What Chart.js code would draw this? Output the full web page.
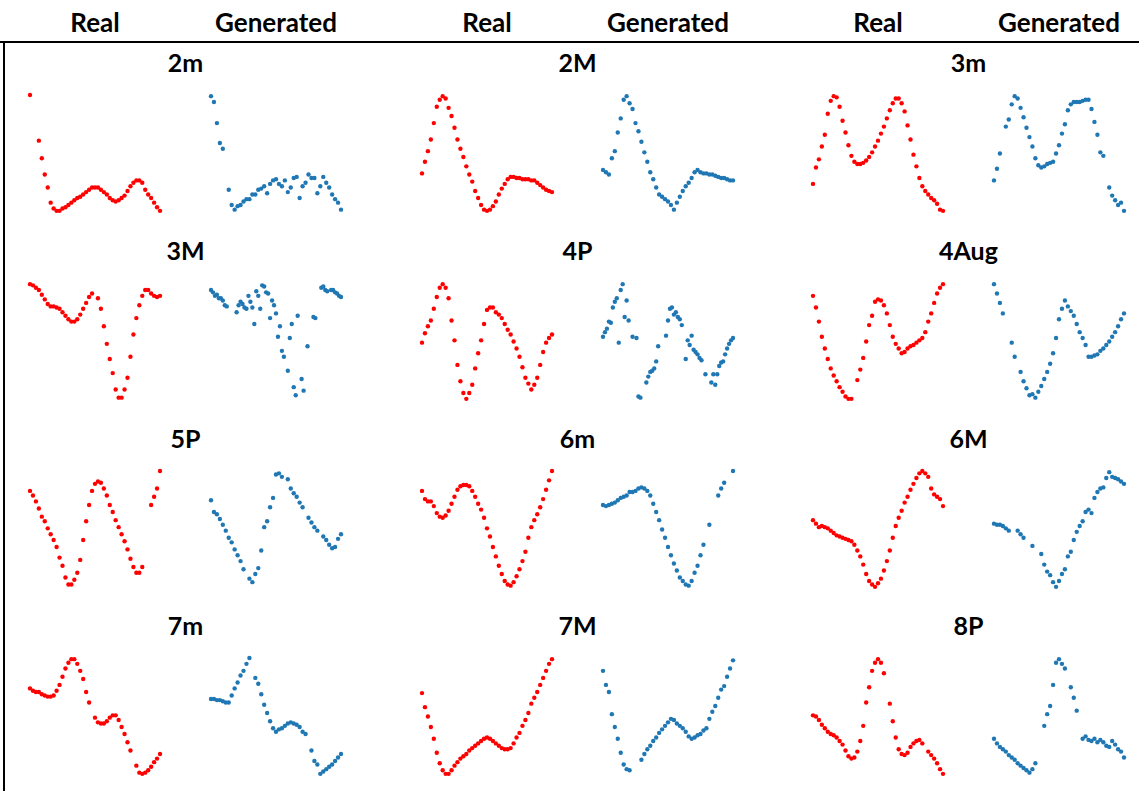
<!DOCTYPE html>
<html>
<head>
<meta charset="utf-8">
<script src="https://cdn.jsdelivr.net/npm/chart.js@4.4.0/dist/chart.umd.min.js"></script>
<style>
  body { margin: 0; background: #fff; }
  #page { position: relative; width: 1139px; height: 791px; overflow: hidden;
          font-family: Lato, 'Open Sans', sans-serif; font-weight: bold; color: #000; }
  .hdr { position: absolute; top: 7px; width: 200px; text-align: center; font-size: 26px; line-height: 30px; }
  .title { position: absolute; width: 200px; text-align: center; font-size: 25px; line-height: 28px; }
  .cell { position: absolute; width: 138px; height: 125px; }
  #hline { position: absolute; left: 0; top: 41px; width: 1139px; height: 2px; background: #000; }
  #vline { position: absolute; left: 3px; top: 42px; width: 2px; height: 749px; background: #000; }
</style>
</head>
<body>
<div id="page">
  <div id="hline"></div>
  <div id="vline"></div>
</div>
<script>
// panel titles, row by row
const titles = ['2m', '2M', '3m', '3M', '4P', '4Aug', '5P', '6m', '6M', '7m', '7M', '8P'];
const headers = ['Real', 'Generated'];

// values (0 = lowest point of the panel, 100 = highest), null = no point
const real2m = [100, null, null, 61, 46, 32, 21, 8, 3, 1, 1, 3, 4, 6, 8, 10, 12, 13, 15, 17, 19, 21, 21, 21, 19, 17, 15, 12, 10, 9, 10, 12, 14, 18, 22, 25, 27, 27, 25, 19, 15, 12, 8, 4, 1];
const gen2m = [99, 94, 76, 59, 54, null, 19, 6, 2, 5, 6, 9, 11, 11, 15, 15, 19, 20, 22, 16, 24, 27, 28, 24, 22, 27, 17, 21, 29, 30, 12, 22, 25, 32, 29, 29, 16, 22, 30, 25, 21, 15, 11, 8, 2];

const real2M = [33, 43, 52, 62, 76, 90, 96, 99, 97, 89, 82, 72, 62, 54, 47, 39, 32, 26, 18, 12, 6, 2, 1, 2, 5, 9, 15, 20, 24, 28, 30, 30, 29, 29, 28, 28, 28, 27, 27, 25, 23, 21, 19, 18, 17];
const gen2M = [36, 34, 32, 46, 52, 68, 80, 96, 99, 93, 88, 76, 69, 60, 51, 43, 34, 28, 21, 15, 13, 11, 9, 6, 2, 8, 13, 18, 22, 25, 29, 34, 36, 34, 33, 33, 32, 32, 31, 30, 29, 29, 28, 27, 27];

const real3m = [24, 38, 45, 56, 66, 84, 95, 99, 98, 90, 78, 68, 57, 48, 43, 41, 41, 42, 44, 47, 51, 56, 61, 67, 73, 80, 87, 93, 97, 97, 93, 86, 74, 62, 49, 39, 29, 22, 18, 15, 12, 10, 7, 2, 1];
const gen3m = [27, 37, 50, null, 73, 79, 92, 99, 97, 89, 81, 72, 64, 56, 46, 40, 38, 39, 41, 42, 43, 50, 57, 67, 75, 87, 92, 94, 94, 94, 95, 96, 96, 88, 77, 66, 51, 48, null, 21, 14, 10, 6, 8, 1];

const real3M = [99, 98, 96, 94, 90, 86, 82, 80, 80, 79, 78, 75, 72, 69, 67, 67, 69, 73, 78, 83, 88, 91, null, 87, 78, 63, 48, 35, 23, 9, 2, 2, 9, 19, 37, 56, 70, 81, 89, 94, 94, 91, 89, 88, 89];
const gen3M = [94, 92, 89, 90, 87, 87, 85, 81, 80, null, null, null, null, 75, 81, 84, 82, 79, 78, 89, 84, 79, 65, 93, 89, 78, 98, 97, 92, 91, 70, 85, 81, 74, 54, 63, 42, 37, null, 25, 53, 65, 11, 4, 72, null, 18, 8, null, 46, null, null, 71, 70, null, null, 96, 97, 94, 93, null, 94, 94, 92, 91, 89, 88];

const real4P = [49, 57, 63, 68, 78, 88, 96, 99, 96, 87, 68, 51, 30, 16, 6, 1, 6, 13, 27, 40, 51, 65, 77, 79, 79, 75, 73, 70, 65, 60, 56, 50, 44, 37, 28, 19, 14, 9, 13, 19, 30, 41, 49, 53, 56];
const gen4P = [54, 58, 61, 67, 66, 79, 84, 87, 49, 94, 99, 71, 85, 68, null, 54, null, 53, 3, 2, null, null, 15, 20, 24, 25, 27, 33, 46, null, null, null, 55, 68, 78, 79, 73, 75, 71, 69, 64, null, 35, 51, 47, 55, 43, 41, 39, 36, 34, null, 22, null, null, 15, 22, 13, 22, 29, 32, 33, 39, 44, 48, 51, 53];

const real4Aug = [89, 79, 67, 54, 44, 35, 27, 21, 16, 11, 7, 3, 1, 1, null, 17, 26, 36, 50, 64, 72, 84, 86, 85, 81, 74, 64, 54, 48, 44, 40, 41, 44, 46, 47, 49, 51, 53, 58, 67, 74, 83, 91, 96, 99];
const gen4Aug = [99, 91, 83, 74, null, null, 49, 37, null, 24, 16, 10, 4, 5, 2, 7, 12, 18, 24, 31, 40, 53, 69, 78, 85, 80, 76, 72, 65, 58, 53, 47, 37, 37, 38, 39, 42, 44, 47, 50, 54, 58, 63, 69, 74];

const real5P = [83, 79, 74, 68, 61, 57, 51, 46, 41, 35, 26, 19, 9, 3, 3, 7, 13, 24, 41, 57, 71, 83, 89, 91, 90, 85, 79, 71, 65, 58, 52, 46, 40, 33, 25, 18, 13, 13, 18, null, null, 71, 78, 85, 100];
const gen5P = [75, 65, 63, 59, 54, 49, 43, 39, 33, 28, 23, 16, null, 8, 5, 12, 17, 32, 52, 57, 69, 77, 97, 98, 95, null, 93, 85, 81, 78, 73, 69, null, 60, 56, 52, 49, null, 44, 41, 37, 34, 35, 42, 46];

const real6m = [83, 76, 74, 74, 70, 64, 61, 60, 62, 66, 72, 78, 84, 87, 88, 88, 87, 83, 78, 72, 67, 60, 51, 44, 35, 27, 19, 12, 6, 3, 2, 5, 10, 16, 23, 31, 43, 52, 58, 63, 69, 76, 84, 92, 100];
const gen6m = [71, 70, 71, 72, 73, 75, 77, 78, 79, 82, 82, 83, 85, 86, 85, 83, 79, 72, 65, 58, 50, 43, 35, 28, 21, 15, 9, 6, 3, 2, 6, 13, 19, 28, 37, null, 54, null, null, 79, 85, 90, null, null, 100];

const real6M = [58, 55, 52, 53, 52, 51, 49, 47, 45, 44, 43, 42, 41, 40, 37, 32, 27, 20, 12, 6, 3, 1, 4, 8, 15, 23, 32, 43, 53, 60, 66, 73, 78, 84, 89, 94, 98, 100, 98, 95, 85, 80, 78, 76, 70];
const gen6M = [55, 54, 54, 53, 51, 49, null, null, 49, 46, 43, null, null, 36, null, null, 29, 20, 14, 11, 5, 1, 6, 12, 16, 27, 31, 41, 48, 53, 57, 65, 67, 64, 77, 82, 85, 86, 94, 99, 95, 94, 93, 91, 89];

const real7m = [74, 72, 71, 71, 69, 68, 67, 67, 68, 72, 77, 84, 91, 96, 99, 99, 95, 89, 82, 71, 62, null, 49, 45, 44, 44, 46, 49, 51, 51, 47, 41, 35, 28, 21, null, 8, 2, 1, 2, 4, 7, 11, 14, 18];
const gen7m = [65, 65, 64, 64, 63, 62, 62, 68, 74, 79, 85, 89, 95, 100, null, 83, 78, 69, 60, 53, 46, 40, 37, 39, 40, 42, 44, 45, 44, 43, 41, 37, 35, null, 21, 12, 9, 1, 3, 5, 7, 9, 12, 15, 18];

const real7M = [70, 58, 50, 41, 31, 19, 10, 4, 1, 1, 4, 8, 11, 14, 16, 18, 21, 23, 25, 27, 29, 31, 32, 31, 29, 27, 25, 23, 22, 22, 23, 27, 32, 36, 42, 47, 53, 61, 66, 71, 77, 83, 89, 95, 99];
const gen7M = [89, 77, 71, 52, 41, 31, 19, 9, 5, 4, null, null, null, 13, 18, 22, 25, 29, 32, 36, 39, 42, 45, 48, 47, 44, 42, 40, 37, 33, 31, 32, 34, 35, 38, 40, 48, 54, 59, 66, 73, 76, 84, 91, 98];

const real8P = [51, 50, 47, 43, 40, 37, 35, 34, 32, 29, 26, 21, 16, 14, 15, 20, 29, 42, 62, 75, 89, 96, 99, 96, 87, null, 61, 46, 32, 22, 18, 17, 19, 24, 27, 29, 30, 27, null, 20, 17, 14, 10, 5, 1];
const gen8P = [31, 27, 24, 22, 20, 17, 15, 13, 10, 8, 6, 4, 2, 5, 10, null, null, 42, 52, 59, 77, 96, 99, 95, 91, null, 75, 66, 55, null, 31, 33, 30, 29, 31, 28, 30, 28, 25, 24, 29, 26, 22, 20, 15];

const realSeries = [real2m, real2M, real3m, real3M, real4P, real4Aug, real5P, real6m, real6M, real7m, real7M, real8P];
const genSeries = [gen2m, gen2M, gen3m, gen3M, gen4P, gen4Aug, gen5P, gen6m, gen6M, gen7m, gen7M, gen8P];

const colLeft = [29, 421, 812];   // left edge of the red panel in each column
const blueOffset = 181;
const rowTop = [94, 282, 470, 657];
const panelW = 132, panelH = 119, pad = 3;

const page = document.getElementById('page');

function addText(cls, text, cx, top) {
    const d = document.createElement('div');
    d.className = cls;
    d.textContent = text;
    d.style.left = (cx - 100) + 'px';
    d.style.top = top + 'px';
    page.appendChild(d);
}

function drawPanel(values, color, left, top) {
    const box = document.createElement('div');
    box.className = 'cell';
    box.style.left = (left - pad) + 'px';
    box.style.top = (top - pad) + 'px';
    const cv = document.createElement('canvas');
    cv.width = panelW + 2 * pad;
    cv.height = panelH + 2 * pad;
    box.appendChild(cv);
    page.appendChild(box);

    const pts = [];
    values.forEach((v, i) => { if (v !== null) pts.push({ x: i, y: v }); });

    new Chart(cv.getContext('2d'), {
        type: 'scatter',
        data: {
            datasets: [{
                data: pts,
                backgroundColor: color,
                borderColor: color,
                borderWidth: 0,
                pointRadius: 2.2,
                clip: false
            }]
        },
        options: {
            responsive: false,
            animation: false,
            layout: { padding: pad },
            plugins: { legend: { display: false }, tooltip: { enabled: false } },
            scales: {
                x: { display: false, min: 0, max: values.length - 1 },
                y: { display: false, min: 0, max: 100 }
            }
        }
    });
}

// header row
colLeft.forEach(l => {
    addText('hdr', headers[0], l + panelW / 2, 7);
    addText('hdr', headers[1], l + blueOffset + panelW / 2, 7);
});

titles.forEach((t, i) => {
    const row = Math.floor(i / 3), col = i % 3;
    const left = colLeft[col], top = rowTop[row];
    addText('title', t, left + (blueOffset + panelW) / 2, top - 46);
    drawPanel(realSeries[i], '#ff0000', left, top);
    drawPanel(genSeries[i], '#1f77b4', left + blueOffset, top);
});
</script>
</body>
</html>
